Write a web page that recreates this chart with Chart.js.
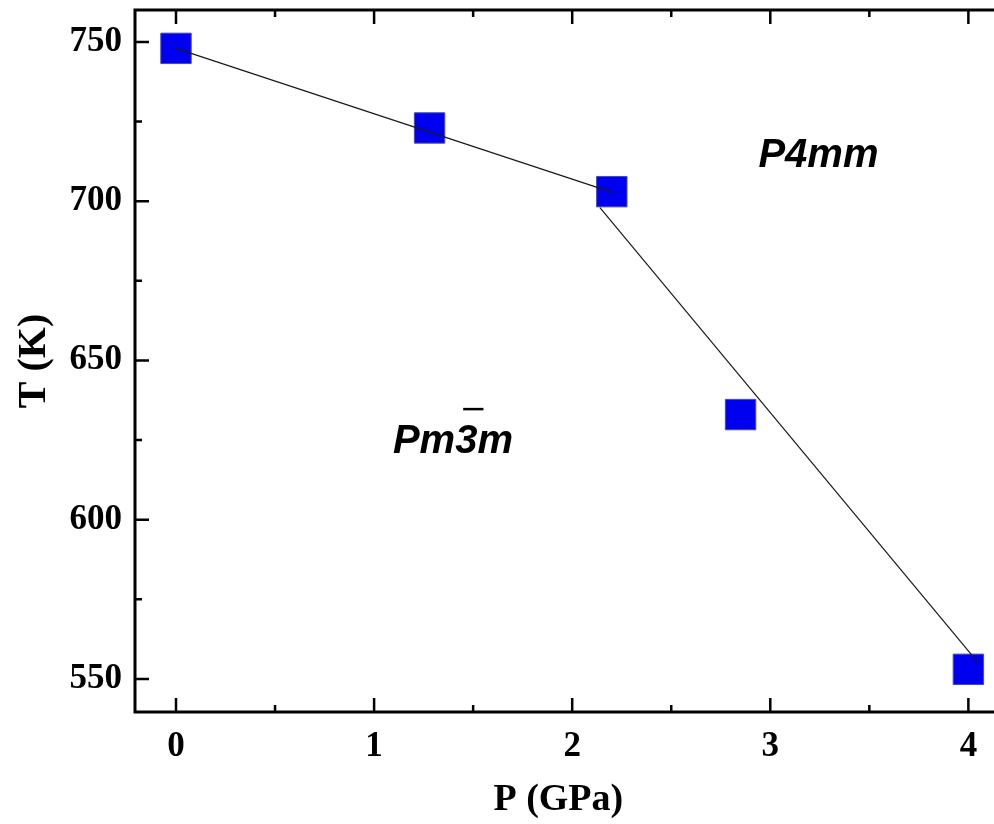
<!DOCTYPE html>
<html>
<head>
<meta charset="utf-8">
<script src="https://cdn.jsdelivr.net/npm/chart.js@4.4.1/dist/chart.umd.min.js"></script>
<style>
  html, body { margin: 0; padding: 0; background: #fff; overflow: hidden; }
  #wrap { position: absolute; left: 0; top: 0; width: 1008px; height: 824px; }
</style>
</head>
<body>
<div id="wrap"><canvas id="phaseChart"></canvas></div>
<script>
// transition points
const pressure = [0, 1.28, 2.2, 2.85, 4.0];
const temperature = [748, 723, 703, 633, 553];

// two straight boundary lines
const lowLineP = [0, 2.21];
const lowLineT = [748, 702.6];
const highLineP = [2.14, 4.05];
const highLineT = [698, 555];

const xTicks = [0, 1, 2, 3, 4];
const yTicks = [550, 600, 650, 700, 750];

// phase labels placed in data coordinates
const phaseNames = ['P4mm', 'Pm3m'];
const phaseP = [2.94, 1.095];
const phaseT = [710.8, 620.9];

const xTitle = 'P (GPa)';

const toPoints = (xs, ys) => xs.map((x, i) => ({ x: x, y: ys[i] }));

const serif = "'Liberation Serif', 'Times New Roman', serif";
const sans = "'Liberation Sans', Arial, sans-serif";

const noPad = (scale) => {
    scale.paddingTop = 0;
    scale.paddingBottom = 0;
    scale.paddingLeft = 0;
    scale.paddingRight = 0;
};

// frame, inward ticks on all four sides, phase labels and the x title
const framePlugin = {
    id: 'frame',
    afterDatasetsDraw(chart) {
        const { ctx, chartArea: a, scales } = chart;
        const xs = scales.x, ys = scales.y;
        ctx.save();
        ctx.strokeStyle = '#000';
        ctx.lineWidth = 2.5;
        ctx.beginPath();
        xTicks.forEach(v => {
            const px = xs.getPixelForValue(v);
            ctx.moveTo(px, a.bottom); ctx.lineTo(px, a.bottom - 14);
            ctx.moveTo(px, a.top); ctx.lineTo(px, a.top + 14);
            const mx = xs.getPixelForValue(v + 0.5);
            ctx.moveTo(mx, a.bottom); ctx.lineTo(mx, a.bottom - 7);
            ctx.moveTo(mx, a.top); ctx.lineTo(mx, a.top + 7);
        });
        yTicks.forEach(v => {
            const py = ys.getPixelForValue(v);
            ctx.moveTo(a.left, py); ctx.lineTo(a.left + 14, py);
            ctx.moveTo(a.right, py); ctx.lineTo(a.right - 14, py);
            const my = ys.getPixelForValue(v + 25);
            ctx.moveTo(a.left, my); ctx.lineTo(a.left + 7, my);
            ctx.moveTo(a.right, my); ctx.lineTo(a.right - 7, my);
        });
        ctx.stroke();
        ctx.lineWidth = 3;
        ctx.strokeRect(a.left, a.top, a.right - a.left, a.bottom - a.top);

        ctx.fillStyle = '#000';
        ctx.font = "italic bold 40px " + sans;
        ctx.textBaseline = 'alphabetic';
        ctx.textAlign = 'left';
        phaseNames.forEach((name, i) => {
            const px = xs.getPixelForValue(phaseP[i]);
            const py = ys.getPixelForValue(phaseT[i]);
            ctx.fillText(name, px, py);
            if (name === 'Pm3m') {
                // bar over the 3
                const w0 = ctx.measureText('Pm').width;
                const w1 = ctx.measureText('3').width;
                ctx.lineWidth = 2.5;
                ctx.beginPath();
                ctx.moveTo(px + w0 + 8, py - 44);
                ctx.lineTo(px + w0 + w1 + 6, py - 44);
                ctx.stroke();
            }
        });

        // axis title, centred under the visible part of the plot
        ctx.font = "bold 38px " + serif;
        ctx.textAlign = 'center';
        ctx.textBaseline = 'middle';
        ctx.fillText(xTitle, xs.getPixelForValue(1.93), 800);
        ctx.restore();
    }
};

const ctx = document.getElementById('phaseChart').getContext('2d');
const chart = new Chart(ctx, {
    type: 'scatter',
    data: {
        datasets: [
            {
                data: toPoints(lowLineP, lowLineT),
                showLine: true,
                borderColor: '#1a1a1a',
                borderWidth: 1.2,
                pointRadius: 0,
                order: 0
            },
            {
                data: toPoints(highLineP, highLineT),
                showLine: true,
                borderColor: '#1a1a1a',
                borderWidth: 1.2,
                pointRadius: 0,
                order: 0
            },
            {
                data: toPoints(pressure, temperature),
                pointStyle: 'rect',
                pointRadius: 21.5,
                pointBackgroundColor: '#0000f0',
                pointBorderColor: '#4a4ab0',
                pointBorderWidth: 1,
                order: 1
            }
        ]
    },
    options: {
        responsive: true,
        maintainAspectRatio: false,
        animation: false,
        layout: { autoPadding: false, padding: { top: 10, right: 0, left: 0, bottom: 0 } },
        plugins: {
            legend: { display: false },
            tooltip: { enabled: false }
        },
        scales: {
            x: {
                type: 'linear',
                min: -0.207,
                max: 4.2,
                afterFit: (scale) => { scale.height = 112; noPad(scale); },
                afterBuildTicks: (scale) => { scale.ticks = xTicks.map(v => ({ value: v })); },
                grid: { display: false, drawTicks: false },
                border: { display: false },
                ticks: {
                    color: '#000',
                    padding: 14,
                    font: { family: serif, size: 35, weight: 'bold' }
                },
                title: { display: false }
            },
            y: {
                type: 'linear',
                min: 539.6,
                max: 760.05,
                afterFit: (scale) => { scale.width = 135; noPad(scale); },
                afterBuildTicks: (scale) => { scale.ticks = yTicks.map(v => ({ value: v })); },
                grid: { display: false, drawTicks: false },
                border: { display: false },
                ticks: {
                    color: '#000',
                    padding: 13,
                    font: { family: serif, size: 35, weight: 'bold' }
                },
                title: {
                    display: true,
                    text: 'T (K)',
                    color: '#000',
                    padding: 11,
                    font: { family: serif, size: 40, weight: 'bold' }
                }
            }
        }
    },
    plugins: [framePlugin]
});
</script>
</body>
</html>
